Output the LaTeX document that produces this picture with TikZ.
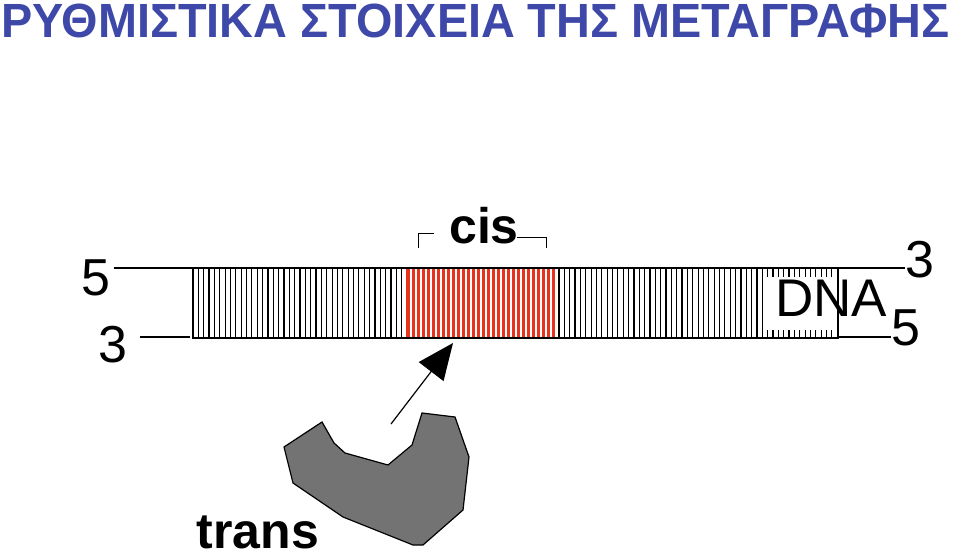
\documentclass[tikz,border=0pt]{standalone}
\usepackage{fontspec}
\setmainfont{Liberation Sans}
\usetikzlibrary{positioning, arrows.meta}
\definecolor{titleblue}{RGB}{62,72,168}
\definecolor{cisred}{RGB}{232,50,28}

\begin{document}
\begin{tikzpicture}[
    x=1pt, y=-1pt,
    endlabel/.style={inner sep=0pt, font=\fontsize{52}{52}\selectfont},
    boldlabel/.style={inner sep=0pt, font=\fontsize{50}{50}\selectfont\bfseries},
    strand/.style={line width=1.2pt},
    rung/.style={line width=1.2pt},
    bracket/.style={line width=1pt}
]
    \useasboundingbox (0,0) rectangle (960,556);

    % Title
    \node[anchor=north west, inner sep=0pt, text=titleblue,
          font=\fontsize{48}{48}\selectfont\bfseries] (title) at (1,4)
          {\scalebox{0.975}[1]{ΡΥΘΜΙΣΤΙΚΑ ΣΤΟΙΧΕΙΑ ΤΗΣ ΜΕΤΑΓΡΑΦΗΣ}};

    % DNA strip
    \foreach \x in {193,198.35,...,405} \draw[rung] (\x,268) -- (\x,338);
    \foreach \x in {559,564.35,...,837} \draw[rung] (\x,268) -- (\x,338);
    \fill[cisred] (407,268) rectangle (554,338);
    \foreach \x in {411,416,...,552} \draw[white, line width=2pt] (\x,268) -- (\x,338);
    \draw[cisred, strand] (407,268) rectangle (554,338);
    \fill[white] (763,277) rectangle (836,330);
    \draw[strand] (193,268) rectangle (838,338);

    \coordinate (tl) at (193,268);
    \coordinate (bl) at (190,337);
    \coordinate (tr) at (838,268);
    \coordinate (br) at (838,337);

    % Strand ends
    \node[endlabel] (five) at (96,278) {5};
    \node[endlabel] (three) at (113,345) {3};
    \node[endlabel] (threer) at (920,260) {3};
    \node[endlabel] (fiver) at (906,328) {5};
    \node[endlabel, font=\fontsize{53}{53}\selectfont] (dna) at (831,298) {DNA};

    \draw[strand] (tl -| five.east) ++(3,0) -- (tl);
    \draw[strand] (bl -| three.east) ++(12,0) -- (bl);
    \draw[strand] (tr) -- (tr -| threer.west) ++(-5,0);
    \draw[strand] (br) -- (br -| fiver.west) ++(-6,0);

    % cis element
    \node[boldlabel, anchor=base] (cis) at (484,243) {cis};
    \draw[bracket] (418,248) -- (418,233) -- (434,233);
    \draw[bracket] (517,237) -- (546,237) -- (546,248);

    % trans factor
    \draw[line width=1.2pt, fill=black!55]
        (322,422) -- (284,447) -- (293,483) -- (343,517) -- (413,545)
        -- (423,545) -- (463,510) -- (469,457) -- (455,417) -- (422,413)
        -- (412,445) -- (388,465) -- (345,453) -- (334,443) -- cycle;
    \node[boldlabel, anchor=base] (trans) at (258,548) {trans};

    \coordinate (transtail) at (391,424);
    \coordinate (cistip) at (453,343);
    \draw[line width=1.2pt, -{Triangle[length=36pt, width=31pt]}] (transtail) -- (cistip);

\end{tikzpicture}
\end{document}
